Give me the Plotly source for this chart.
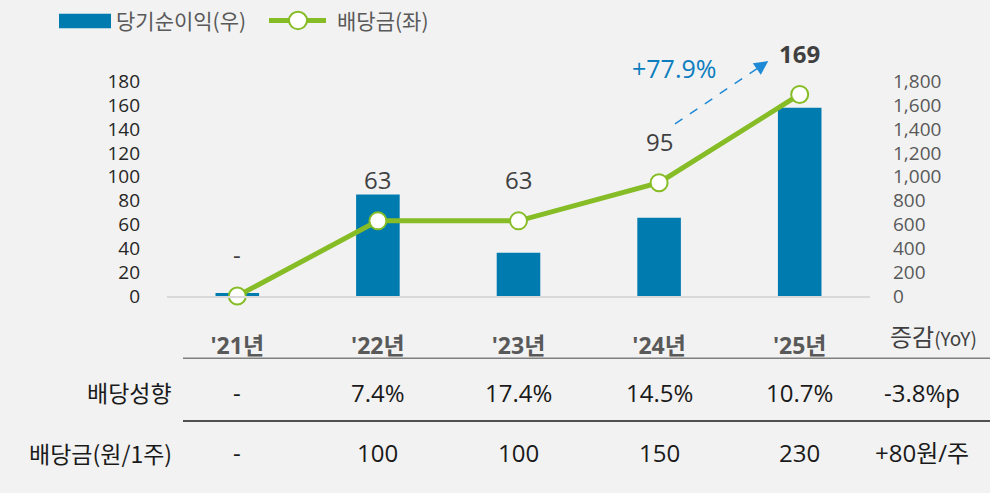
import plotly.graph_objects as go

# ---------------- data ----------------
years = ["'21년", "'22년", "'23년", "'24년", "'25년"]
net_income = [25, 851, 362, 655, 1579]          # 당기순이익 (right axis)
dividend_total = [0, 63, 63, 95, 169]           # 배당금 (left axis)
dividend_labels = ["-", "63", "63", "95", "169"]
series_names = ["당기순이익(우)", "배당금(좌)"]
left_ticks = list(range(0, 181, 20))
right_ticks = list(range(0, 1801, 200))
row_labels = ["배당성향", "배당금(원/1주)"]
payout_ratio = ["-", "7.4%", "17.4%", "14.5%", "10.7%"]
dps = ["-", "100", "100", "150", "230"]
yoy_header = "증감"
yoy_sub = "(YoY)"
yoy_values = ["-3.8%p", "+80원/주"]
growth_label = "+77.9%"

# ---------------- style ----------------
W, H = 990, 493
BLUE = "#007BB0"
GREEN = "#86BC25"
ARROW = "#1E8AD6"
BG = "#F2F2F2"
FONT = "Open Sans, Noto Sans CJK KR, sans-serif"
KFONT = "Noto Sans CJK KR, sans-serif"


def px(x):
    return x / W


def py(y):
    return 1 - y / H


BASE_Y, TOP_Y, TICK180_Y = 304, 60, 83.5
scale = (BASE_Y - TOP_Y) / (BASE_Y - TICK180_Y)

fig = go.Figure()
fig.add_trace(go.Bar(
    x=years, y=net_income, yaxis="y", name=series_names[0],
    marker=dict(color=BLUE, line=dict(width=0)), width=0.31, showlegend=False,
))
fig.add_trace(go.Scatter(
    x=years, y=dividend_total, yaxis="y2", name=series_names[1],
    mode="lines+markers", line=dict(color=GREEN, width=5),
    marker=dict(size=17, color="white", line=dict(color=GREEN, width=2)),
    cliponaxis=False, showlegend=False,
))

annotations = []
shapes = []


def note(**kw):
    kw.setdefault("showarrow", False)
    kw.setdefault("xanchor", "center")
    kw.setdefault("yanchor", "middle")
    annotations.append(kw)


# data labels above the dividend line
for i, (yr, v, lbl) in enumerate(zip(years, dividend_total, dividend_labels)):
    last = i == len(years) - 1
    note(x=yr, y=v, xref="x", yref="y2", yshift=41,
         text=f"<b>{lbl}</b>" if last else lbl,
         font=dict(family=FONT, size=24, color="#404040"))

# growth arrow (dashed)
x0, y0, x1, y1 = 675, 127.3, 768.3, 62.7
shapes.append(dict(type="line", xref="paper", yref="paper",
                   x0=px(x0), y0=py(y0), x1=px(x1 - 8), y1=py(y1 + 5.5),
                   line=dict(color=ARROW, width=1.5, dash="dash")))
dx, dy = x1 - x0, y1 - y0
L = (dx * dx + dy * dy) ** 0.5
annotations.append(dict(
    x=px(x1), y=py(y1), xref="paper", yref="paper", text="",
    showarrow=True, arrowhead=2, arrowsize=1.4, arrowwidth=2, arrowcolor=ARROW,
    ax=-dx / L * 10, ay=-dy / L * 10,
))
note(x=px(674), y=py(70), xref="paper", yref="paper",
     text=growth_label, font=dict(family=FONT, size=25, color="#0C7DBE"))

# legend
shapes.append(dict(type="rect", xref="paper", yref="paper",
                   x0=px(59), x1=px(111), y0=py(14), y1=py(29),
                   fillcolor=BLUE, line=dict(width=0)))
note(x=px(114), y=py(21), xref="paper", yref="paper", xanchor="left",
     text=series_names[0], font=dict(family=KFONT, size=21, color="#595959"))
shapes.append(dict(type="line", xref="paper", yref="paper",
                   x0=px(269), x1=px(326), y0=py(21), y1=py(21),
                   line=dict(color=GREEN, width=5)))
shapes.append(dict(type="circle", xref="paper", yref="paper",
                   x0=px(289), x1=px(307), y0=py(12), y1=py(30),
                   fillcolor="white", line=dict(color=GREEN, width=2)))
note(x=px(335), y=py(21), xref="paper", yref="paper", xanchor="left",
     text=series_names[1], font=dict(family=KFONT, size=21, color="#595959"))

# table below the chart
note(x=px(933), y=py(345), xref="paper", yref="paper",
     text=f"{yoy_header}<span style='font-size:19px'>{yoy_sub}</span>",
     font=dict(family=KFONT, size=24, color="#404040"))
shapes.append(dict(type="line", xref="paper", yref="paper",
                   x0=px(183), x1=1, y0=py(368), y1=py(368),
                   line=dict(color="#7F7F7F", width=1.5)))
shapes.append(dict(type="line", xref="paper", yref="paper",
                   x0=px(183), x1=1, y0=py(432.5), y1=py(432.5),
                   line=dict(color="#1A1A1A", width=1.5)))
row_y = [403, 465]
for label, vals, yoy, ry in zip(row_labels, [payout_ratio, dps], yoy_values, row_y):
    note(x=px(174), y=py(ry), xref="paper", yref="paper", xanchor="right",
         text=label, font=dict(family=KFONT, size=23, color="#1A1A1A"))
    for yr, v in zip(years, vals):
        note(x=yr, y=py(ry), xref="x", yref="paper", text=v,
             font=dict(family=FONT, size=24, color="#1A1A1A"))
    note(x=px(922), y=py(ry), xref="paper", yref="paper", text=yoy,
         font=dict(family=FONT, size=24, color="#1A1A1A"))

fig.update_layout(
    width=W, height=H, margin=dict(l=0, r=0, t=0, b=0),
    paper_bgcolor=BG, plot_bgcolor=BG,
    showlegend=False, bargap=0.69,
    xaxis=dict(domain=[px(167), px(870)], type="category",
               showline=True, linecolor="#D9D9D9", linewidth=2,
               ticks="", showgrid=False, zeroline=False,
               ticklabelstandoff=28,
               tickfont=dict(family=FONT, size=23, color="#595959", weight="bold")),
    yaxis=dict(domain=[py(BASE_Y), py(TOP_Y)], side="right",
               range=[0, 1800 * scale], tickvals=right_ticks, tickformat=",",
               showgrid=False, zeroline=False, showline=False, ticks="",
               ticklabelstandoff=22,
               tickfont=dict(family=FONT, size=19, color="#595959")),
    yaxis2=dict(overlaying="y", side="left", range=[0, 180 * scale],
                tickvals=left_ticks, showgrid=False, zeroline=False,
                showline=False, ticks="", ticklabelstandoff=26,
                tickfont=dict(family=FONT, size=19, color="#262626")),
    annotations=annotations, shapes=shapes,
)

post = """
document.documentElement.style.margin='0';
document.body.style.margin='0';
document.body.style.background='#F2F2F2';
"""

fig.write_html("out.html", config={"displayModeBar": False}, post_script=post)
